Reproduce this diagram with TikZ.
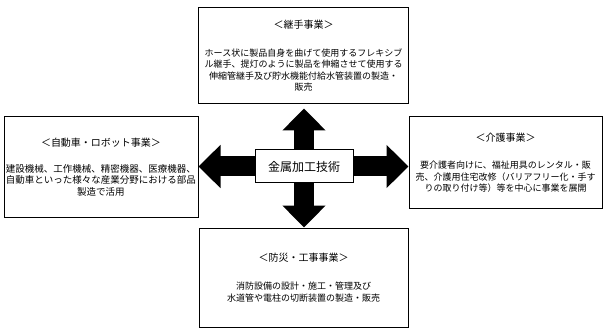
\documentclass[tikz,border=0pt]{standalone}
\usepackage{fontspec}
\setmainfont{Noto Sans CJK JP}
\usetikzlibrary{arrows.meta,backgrounds}
\newcommand\bizhead[1]{{\fontsize{10}{12}\selectfont #1}}
\tikzset{
  bigarrow/.style={
    {Triangle[length=22pt,width=42pt]}-{Triangle[length=22pt,width=42pt]},
    line width=20pt,
    draw=black
  },
  bizbox/.style={
    draw=black,
    line width=1pt,
    fill=white,
    align=center,
    inner sep=1pt,
    font=\fontsize{9}{11.5}\selectfont
  },
  hubbox/.style={
    draw=black,
    line width=1pt,
    fill=white,
    inner sep=0pt,
    minimum width=98pt,
    minimum height=33pt,
    font=\fontsize{12}{14}\selectfont
  }
}
\begin{document}
\begin{tikzpicture}[x=1pt,y=-1pt]
  \useasboundingbox (0,0) rectangle (608,334);

  \node[bizbox,text width=208pt,minimum height=96pt] (joint) at (303.5,56)
    {\bizhead{＜継手事業＞}\\[16pt]
     ホース状に製品自身を曲げて使用するフレキシブ\\
     ル継手、提灯のように製品を伸縮させて使用する\\
     伸縮管継手及び貯水機能付給水管装置の製造・\\
     販売};
  \node[bizbox,text width=192pt,minimum height=100pt,
        font=\fontsize{9.5}{11.5}\selectfont] (robot) at (101,167)
    {\bizhead{＜自動車・ロボット事業＞}\\[14pt]
     建設機械、工作機械、精密機器、医療機器、\\
     自動車といった様々な産業分野における部品\\
     製造で活用};
  \node[bizbox,text width=191pt,minimum height=92pt] (care) at (505.5,162.5)
    {\bizhead{＜介護事業＞}\\[16pt]
     要介護者向けに、福祉用具のレンタル・販\\
     売、介護用住宅改修（バリアフリー化・手す\\
     りの取り付け等）等を中心に事業を展開};
  \node[bizbox,text width=207pt,minimum height=99pt] (disaster) at (303.5,277.5)
    {\bizhead{＜防災・工事事業＞}\\[17pt]
     消防設備の設計・施工・管理及び\\
     水道管や電柱の切断装置の製造・販売};

  \node[hubbox] (metal) at (304,166.5) {金属加工技術};

  \begin{scope}[on background layer]
    \draw[bigarrow] (robot.east |- metal) -- (care.west |- metal);
    \draw[bigarrow,shorten <=4pt] (metal |- joint.south) -- (metal |- disaster.north);
  \end{scope}
\end{tikzpicture}
\end{document}
